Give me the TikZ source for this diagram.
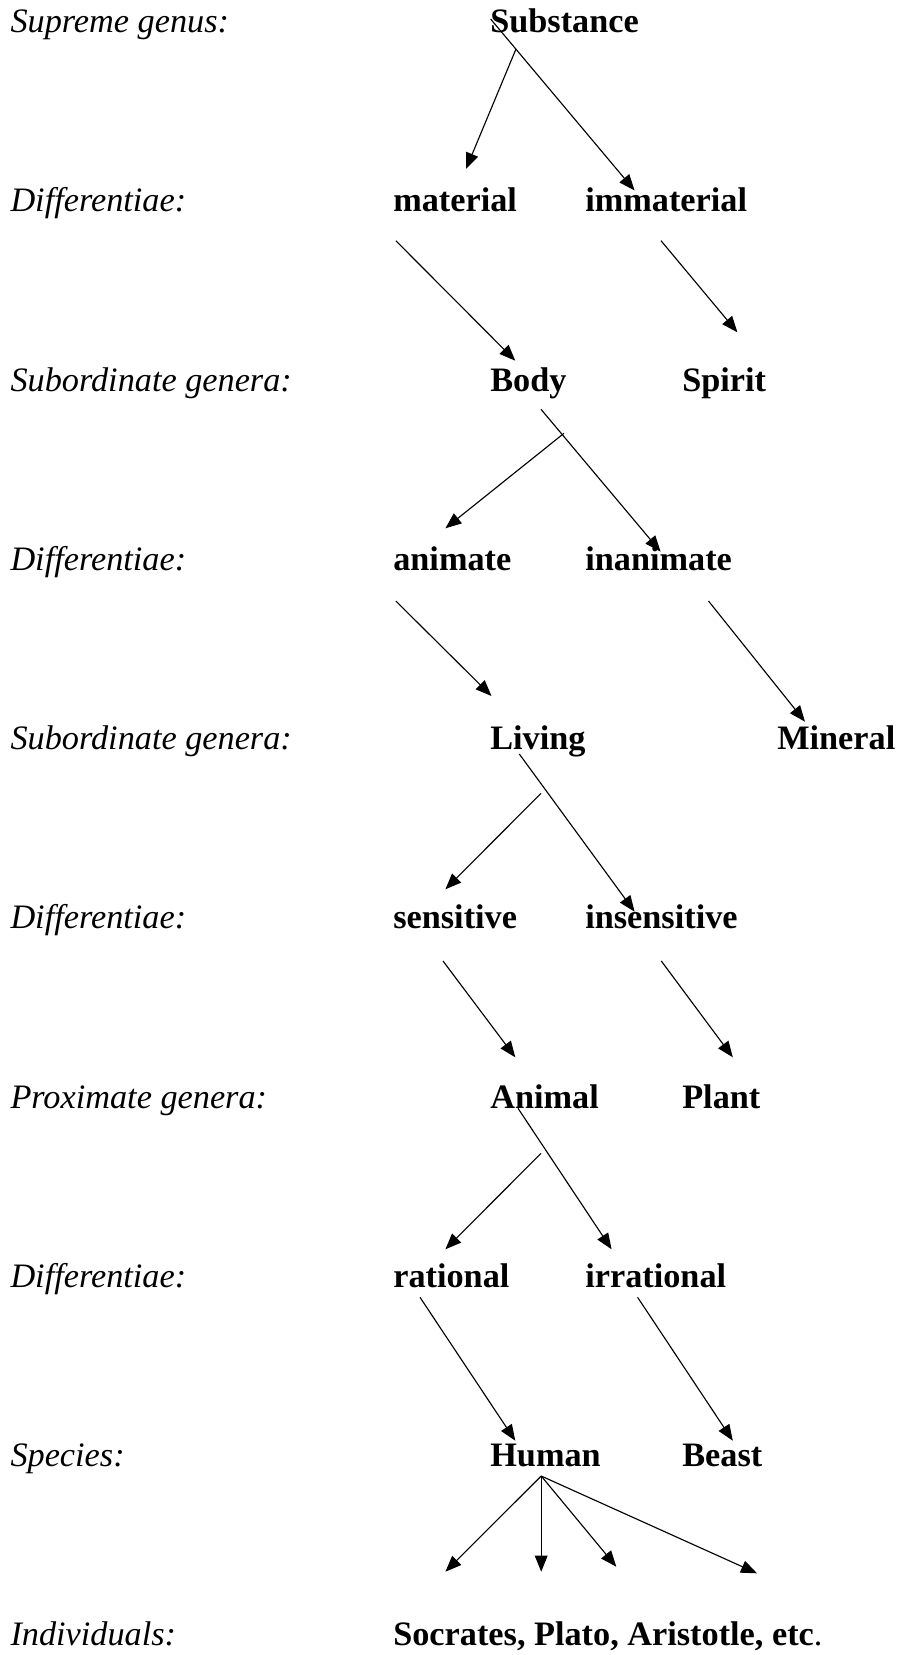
\documentclass[tikz,border=0pt]{standalone}
\usepackage{fontspec}
\setmainfont{Liberation Serif}
\usetikzlibrary{arrows.meta}

\tikzset{every picture/.style={line width=0.75pt}}
\tikzset{
  rowlabel/.style={anchor=base west,inner sep=0pt,font=\fontsize{25.7}{30}\selectfont\itshape},
  term/.style={anchor=base west,inner sep=0pt,font=\fontsize{25.7}{30}\selectfont\bfseries},
  arr/.style={line width=0.85pt,-{Triangle[length=12pt,width=9.5pt]}}
}

\begin{document}
\begin{tikzpicture}[x=0.75pt,y=0.75pt,yscale=-1,xscale=1]
    \useasboundingbox (0,0) rectangle (900,1655);

    % Text Node
    \node [rowlabel] (l1) at (10,33) {Supreme genus:};
    \node [rowlabel] (l2) at (10,212) {Differentiae:};
    \node [rowlabel] (l3) at (10,391) {Subordinate genera:};
    \node [rowlabel] (l4) at (10,570) {Differentiae:};
    \node [rowlabel] (l5) at (10,749) {Subordinate genera:};
    \node [rowlabel] (l6) at (10,928) {Differentiae:};
    \node [rowlabel] (l7) at (10,1108) {Proximate genera:};
    \node [rowlabel] (l8) at (10,1287) {Differentiae:};
    \node [rowlabel] (l9) at (10,1466) {Species:};
    \node [rowlabel] (l10) at (10,1645) {Individuals:};

    % Text Node
    \node [term] (substance) at (489.8,33) {Substance};
    \node [term] (material) at (392.8,212) {material};
    \node [term] (immaterial) at (584.8,212) {immaterial};
    \node [term] (body) at (489.8,391) {Body};
    \node [term] (spirit) at (681.8,391) {Spirit};
    \node [term] (animate) at (392.8,570) {animate};
    \node [term] (inanimate) at (584.8,570) {inanimate};
    \node [term] (living) at (489.8,749) {Living};
    \node [term] (mineral) at (776.8,749) {Mineral};
    \node [term] (sensitive) at (392.8,928) {sensitive};
    \node [term] (insensitive) at (584.8,928) {insensitive};
    \node [term] (animal) at (489.8,1108) {Animal};
    \node [term] (plant) at (681.8,1108) {Plant};
    \node [term] (rational) at (392.8,1287) {rational};
    \node [term] (irrational) at (584.8,1287) {irrational};
    \node [term] (human) at (489.8,1466) {Human};
    \node [term] (beast) at (681.8,1466) {Beast};
    \node [term] (individuals) at (392.8,1645) {Socrates, Plato, Aristotle, etc\textmd{.}};

    % arrow ends
    \coordinate (s1) at (516,49);      \coordinate (e1) at (466,169);
    \coordinate (s2) at (490.6,19);    \coordinate (e2) at (634.6,190.5);
    \coordinate (s3) at (395.8,240.7); \coordinate (e3) at (515.3,360.7);
    \coordinate (s4) at (661,240.7);   \coordinate (e4) at (737.4,332.3);
    \coordinate (s5) at (564,433.3);   \coordinate (e5) at (445.4,528.3);
    \coordinate (s6) at (541,409.3);   \coordinate (e6) at (660.6,551.7);
    \coordinate (s7) at (395.8,601);   \coordinate (e7) at (491.5,696);
    \coordinate (s8) at (708.5,601);   \coordinate (e8) at (805,721.7);
    \coordinate (s9) at (541,793.3);   \coordinate (e9) at (445.4,889.3);
    \coordinate (s10) at (519.3,754);  \coordinate (e10) at (634.6,911.7);
    \coordinate (s11) at (443,961);    \coordinate (e11) at (515.3,1057.3);
    \coordinate (s12) at (661.3,961);  \coordinate (e12) at (732.8,1057.3);
    \coordinate (s13) at (541,1153.3); \coordinate (e13) at (445.4,1249.3);
    \coordinate (s14) at (518,1108.3); \coordinate (e14) at (611.6,1249.3);
    \coordinate (s15) at (420,1297.3); \coordinate (e15) at (515.3,1440.7);
    \coordinate (s16) at (637.6,1297.3); \coordinate (e16) at (732.8,1440.7);
    \coordinate (hu) at (541.2,1476);
    \coordinate (i1) at (445.4,1571.7);
    \coordinate (i2) at (541.2,1571.7);
    \coordinate (i3) at (616.3,1566.7);
    \coordinate (i4) at (757,1573.3);

    %Straight Lines
    \foreach \n in {1,...,16}
      \draw [arr] (s\n) -- (e\n);
    %Straight Lines
    \foreach \t in {i1,i2,i3,i4}
      \draw [arr] (hu) -- (\t);

\end{tikzpicture}
\end{document}
